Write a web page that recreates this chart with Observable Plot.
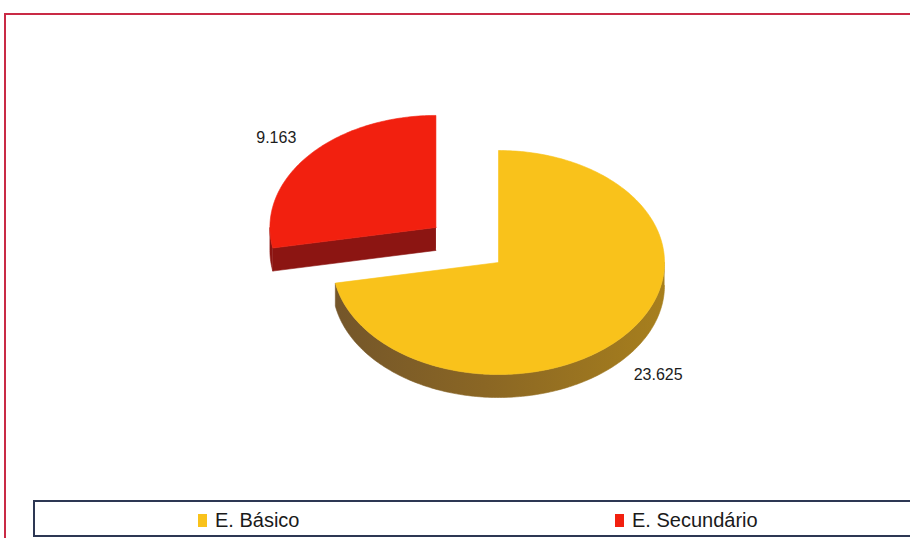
<!DOCTYPE html>
<html>
<head>
<meta charset="utf-8">
<script src="https://cdn.jsdelivr.net/npm/d3@7"></script>
<script src="https://cdn.jsdelivr.net/npm/@observablehq/plot@0.6"></script>
<style>
  html, body { margin: 0; padding: 0; background: #fff; overflow: hidden; }
  #page { position: relative; width: 910px; height: 538px; overflow: hidden; font-family: "Liberation Sans", Arial, sans-serif; }
  #frame { position: absolute; left: 4px; top: 13px; width: 1000px; height: 700px; border: 2px solid #c92a45; box-sizing: border-box; }
  #chart { position: absolute; left: 0; top: 0; }
  #legend { position: absolute; left: 33px; top: 500px; width: 1000px; height: 37px; border: 2px solid #2d3753; box-sizing: border-box; }
  .item { position: absolute; top: 7px; font-size: 20px; color: #1a1a1a; line-height: 22px; white-space: nowrap; }
  .swatch { position: absolute; left: -17px; top: 5px; width: 9px; height: 13px; }
</style>
</head>
<body>
<div id="page">
  <div id="frame"></div>
  <div id="chart"></div>
  <div id="legend"></div>
</div>
<script>
// Alunos por nível de ensino
const categories = ["E. Básico", "E. Secundário"];
const values = [23625, 9163];
const topColors = ["#f9c21b", "#f2200f"];
const sideColors = ["url(#sideBasico)", "#8c1512"];
const exploded = [false, true];

// Pie geometry (pixels)
const W = 910, H = 538;
const cx = 498, cy = 262;   // centre of the pie
const rx = 166, ry = 112;   // ellipse radii of the tilted top face
const depth = 23;           // thickness of the disc
const explode = 0.49;       // offset of the pulled-out slice, in radii
const labelR = 1.25;

const ptFormat = d3.formatLocale({decimal: ",", thousands: ".", grouping: [3], currency: ["", " €"]}).format(",");

const arcs = d3.pie().sort(null).startAngle(0).endAngle(2 * Math.PI)(values);
const deg = Math.PI / 180;

function sliceCenter(a) {
  if (!exploded[a.index]) return [cx, cy];
  const m = (a.startAngle + a.endAngle) / 2;
  return [cx + explode * rx * Math.sin(m), cy - explode * ry * Math.cos(m)];
}
function rim(c, t, dz = 0) {
  return {x: c[0] + rx * Math.sin(t), y: c[1] - ry * Math.cos(t) + dz};
}
function arcPoints(c, a0, a1, dz = 0) {
  const n = Math.max(2, Math.ceil(Math.abs(a1 - a0) / deg));
  return d3.range(n + 1).map(i => rim(c, a0 + (a1 - a0) * i / n, dz));
}

const faces = [];
const labels = [];
arcs.forEach(a => {
  const c = sliceCenter(a);
  const i = a.index;
  // outer wall: the part of the rim facing the viewer (between 90° and 270°)
  const s = Math.max(a.startAngle, Math.PI / 2), e = Math.min(a.endAngle, 3 * Math.PI / 2);
  if (e > s) {
    faces.push({order: 0, fill: sideColors[i], pts: [...arcPoints(c, s, e), ...arcPoints(c, s, e, depth).reverse()]});
  }
  // radial cut faces, drawn when they turn toward the viewer
  [[a.startAngle, a.startAngle - Math.PI / 2], [a.endAngle, a.endAngle + Math.PI / 2]].forEach(([t, n]) => {
    if (Math.cos(n) < -1e-6) {
      const p = rim(c, t), q = rim(c, t, depth);
      faces.push({order: 0, fill: sideColors[i], pts: [{x: c[0], y: c[1]}, p, q, {x: c[0], y: c[1] + depth}]});
    }
  });
  // top face
  faces.push({order: 1, fill: topColors[i], pts: [{x: c[0], y: c[1]}, ...arcPoints(c, a.startAngle, a.endAngle), {x: c[0], y: c[1]}]});
  // value label just outside the rim
  const m = (a.startAngle + a.endAngle) / 2;
  const front = Math.cos(m) < 0 ? depth : 0;
  labels.push({x: c[0] + labelR * rx * Math.sin(m), y: c[1] - labelR * ry * Math.cos(m) + front, text: ptFormat(a.value)});
});

const marks = faces.map(f => Plot.line(f.pts, {x: "x", y: "y", fill: f.fill, stroke: f.fill, strokeWidth: 0.6, curve: "linear"}));
marks.push(Plot.text(labels, {x: "x", y: "y", text: "text", fontSize: 16, fill: "#1c1c1c", fontFamily: "Liberation Sans, Arial, sans-serif"}));

const svg = Plot.plot({
  width: W,
  height: 495,
  margin: 0,
  x: {domain: [0, W], range: [0, W], axis: null},
  y: {domain: [0, 495], range: [0, 495], axis: null},
  style: {background: "transparent", overflow: "visible"},
  marks
});

// shading of the yellow slice wall
const ns = "http://www.w3.org/2000/svg";
const defs = document.createElementNS(ns, "defs");
defs.innerHTML = `<linearGradient id="sideBasico" x1="0" y1="0" x2="1" y2="0">
  <stop offset="0" stop-color="#74562a"/>
  <stop offset="0.45" stop-color="#8a6624"/>
  <stop offset="1" stop-color="#a77f1d"/>
</linearGradient>`;
svg.insertBefore(defs, svg.firstChild);
document.getElementById("chart").appendChild(svg);

// legend
const legend = document.getElementById("legend");
const legendX = [180, 597];
categories.forEach((name, i) => {
  const item = document.createElement("div");
  item.className = "item";
  item.style.left = legendX[i] + "px";
  const sw = document.createElement("span");
  sw.className = "swatch";
  sw.style.background = topColors[i];
  item.appendChild(sw);
  item.appendChild(document.createTextNode(name));
  legend.appendChild(item);
});
</script>
</body>
</html>
